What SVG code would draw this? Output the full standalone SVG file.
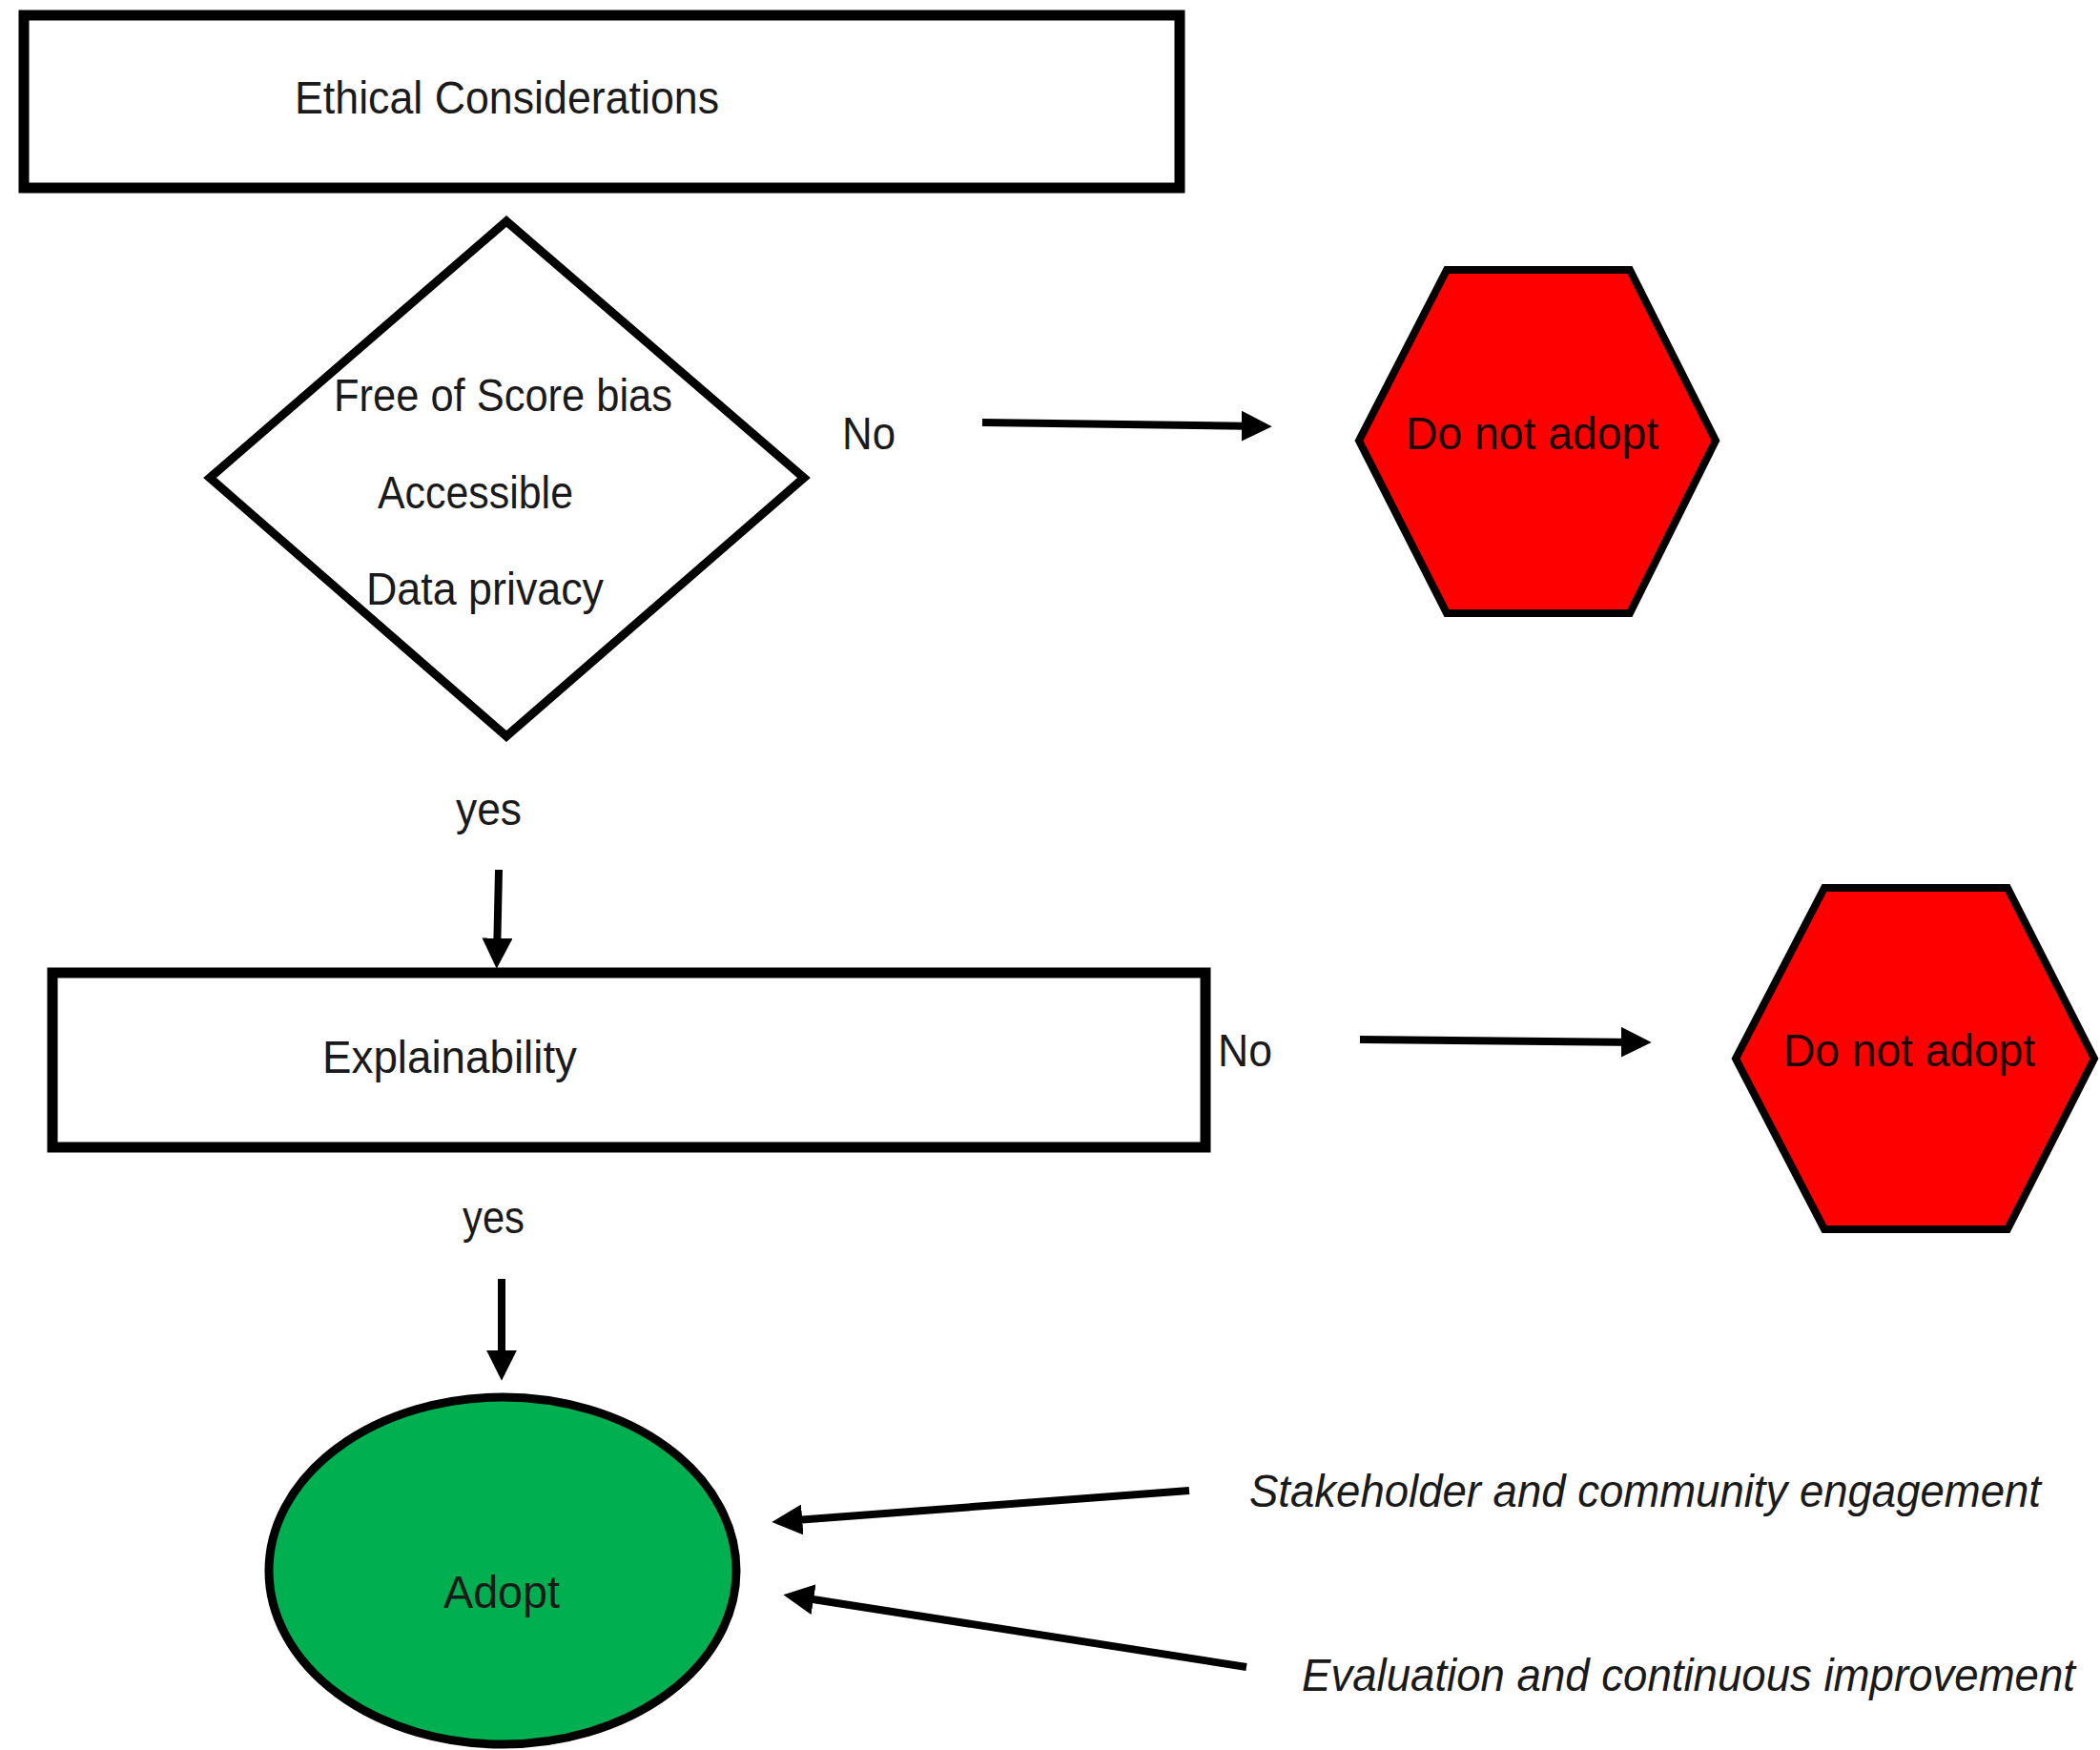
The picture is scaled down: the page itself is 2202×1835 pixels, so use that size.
<svg xmlns="http://www.w3.org/2000/svg" width="2202" height="1835" viewBox="0 0 2202 1835">
  <style>
    .box { fill: #ffffff; stroke: #000000; stroke-width: 11; }
    .dia { fill: #ffffff; stroke: #000000; stroke-width: 9; stroke-linejoin: miter; }
    .hex { fill: #ff0000; stroke: #000000; stroke-width: 8; stroke-linejoin: miter; }
    .ell { fill: #00b050; stroke: #000000; stroke-width: 9; }
    .t { font-family: "Liberation Sans", Arial, sans-serif; font-size: 48px; fill: #1a1a1a; }
    .ti { font-family: "Liberation Sans", Arial, sans-serif; font-size: 48px; font-style: italic; fill: #1a1a1a; }
    .dark { fill: #1a0000; }
    .conn { stroke: #000000; stroke-width: 8; fill: none; marker-end: url(#ah); }
  </style>
  <defs>
    <marker id="ah" markerUnits="userSpaceOnUse" markerWidth="32" markerHeight="32" viewBox="0 0 30 30" refX="19" refY="15" orient="auto">
      <path d="M0,0 L30,15 L0,30 z" fill="#000000"/>
    </marker>
  </defs>
  <rect width="2202" height="1835" fill="#ffffff"/>

  <g id="connectors">
    <line class="conn" x1="1030" y1="443" x2="1322" y2="447"/>
    <line class="conn" x1="523" y1="912" x2="521" y2="1004"/>
    <line class="conn" x1="1426" y1="1090" x2="1720" y2="1093"/>
    <line class="conn" x1="526" y1="1341" x2="526" y2="1436"/>
    <line class="conn" x1="1247" y1="1563" x2="821" y2="1595"/>
    <line class="conn" x1="1307" y1="1748" x2="833" y2="1674"/>
  </g>

  <g id="ethical-considerations">
    <rect class="box" x="25" y="16" width="1212" height="181"/>
    <text class="t" x="309" y="119" textLength="445" lengthAdjust="spacingAndGlyphs">Ethical Considerations</text>
  </g>

  <g id="decision">
    <polygon class="dia" points="531,232 843,501 531,772 220,501"/>
    <text class="t" x="350" y="431" textLength="355" lengthAdjust="spacingAndGlyphs">Free of Score bias</text>
    <text class="t" x="396" y="533" textLength="205" lengthAdjust="spacingAndGlyphs">Accessible</text>
    <text class="t" x="384" y="634" textLength="249" lengthAdjust="spacingAndGlyphs">Data privacy</text>
  </g>

  <g id="label-no-1">
    <text class="t" x="883" y="471" textLength="56" lengthAdjust="spacingAndGlyphs">No</text>
  </g>

  <g id="do-not-adopt-1">
    <polygon class="hex" points="1517,283 1709,283 1799,462 1709,643 1517,643 1425,462"/>
    <text class="t dark" x="1474" y="471" textLength="265" lengthAdjust="spacingAndGlyphs">Do not adopt</text>
  </g>

  <g id="label-yes-1">
    <text class="t" x="478" y="865" textLength="69" lengthAdjust="spacingAndGlyphs">yes</text>
  </g>

  <g id="explainability">
    <rect class="box" x="55" y="1020" width="1209" height="183"/>
    <text class="t" x="338" y="1125" textLength="267" lengthAdjust="spacingAndGlyphs">Explainability</text>
  </g>

  <g id="label-no-2">
    <text class="t" x="1277" y="1118" textLength="57" lengthAdjust="spacingAndGlyphs">No</text>
  </g>

  <g id="do-not-adopt-2">
    <polygon class="hex" points="1913,931 2105,931 2196,1110 2105,1289 1913,1289 1820,1110"/>
    <text class="t dark" x="1870" y="1118" textLength="264" lengthAdjust="spacingAndGlyphs">Do not adopt</text>
  </g>

  <g id="label-yes-2">
    <text class="t" x="485" y="1293" textLength="65" lengthAdjust="spacingAndGlyphs">yes</text>
  </g>

  <g id="adopt">
    <ellipse class="ell" cx="527" cy="1647" rx="245" ry="182"/>
    <text class="t" x="465" y="1686" textLength="122" lengthAdjust="spacingAndGlyphs">Adopt</text>
  </g>

  <g id="stakeholder">
    <text class="ti" x="1310" y="1580" textLength="830" lengthAdjust="spacingAndGlyphs">Stakeholder and community engagement</text>
  </g>

  <g id="evaluation">
    <text class="ti" x="1365" y="1773" textLength="811" lengthAdjust="spacingAndGlyphs">Evaluation and continuous improvement</text>
  </g>
</svg>
